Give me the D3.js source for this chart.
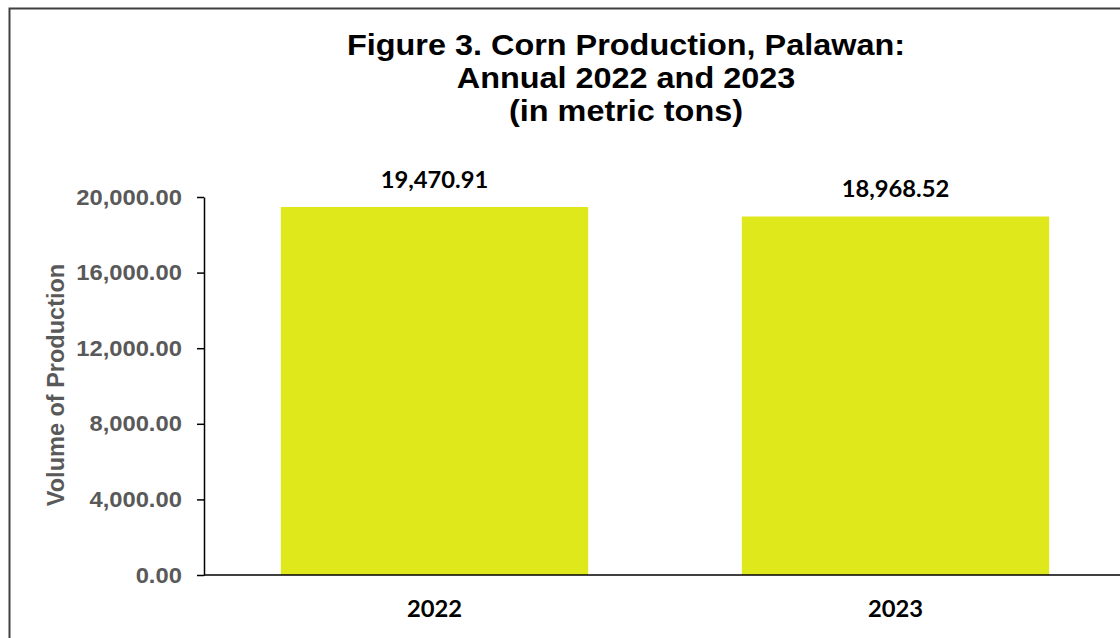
<!DOCTYPE html>
<html>
<head>
<meta charset="utf-8">
<script src="https://cdn.jsdelivr.net/npm/d3@7"></script>
<style>
body{margin:0;background:#fff;}
svg{display:block;}
</style>
</head>
<body>
<svg></svg>
<script>
var years = ["2022", "2023"];
var production = [19470.91, 18968.52];
var yTicks = [0, 4000, 8000, 12000, 16000, 20000];
var titleLines = ["Figure 3. Corn Production, Palawan:", "Annual 2022 and 2023", "(in metric tons)"];

var width = 1120, height = 638;
var stretch = 1.08; // source picture is a bit wider than tall
var svg = d3.select("svg").attr("width", width).attr("height", height);

// outer chart border (runs off the right / bottom edge like the source)
svg.append("rect")
    .attr("x", 9.5).attr("y", 8.5)
    .attr("width", 1130).attr("height", 650)
    .attr("fill", "none").attr("stroke", "#404040").attr("stroke-width", 2);

var x = d3.scaleBand().domain(years).range([204, 1126]).paddingInner(1/3).paddingOuter(1/6);
var y = d3.scaleLinear().domain([0, 20000]).range([575, 197]);

var fmt = d3.format(",.2f");

// title
svg.append("g").selectAll("text")
    .data(titleLines)
    .enter().append("text")
    .attr("transform", function(d, i) { return "translate(626," + (55 + i * 33) + ") scale(" + stretch + ",1)"; })
    .attr("text-anchor", "middle")
    .style("font-family", "'Liberation Sans', Arial, sans-serif")
    .style("font-weight", "bold")
    .style("font-size", "30px")
    .style("fill", "#000")
    .text(function(d) { return d; });

// bars
svg.append("g").selectAll("rect")
    .data(production)
    .enter().append("rect")
    .attr("x", function(d, i) { return x(years[i]); })
    .attr("y", function(d) { return y(d); })
    .attr("width", x.bandwidth())
    .attr("height", function(d) { return y(0) - y(d); })
    .attr("fill", "#dfe81a");

// value labels
svg.append("g").selectAll("text")
    .data(production)
    .enter().append("text")
    .attr("transform", function(d, i) {
        return "translate(" + (x(years[i]) + x.bandwidth() / 2) + "," + (y(d) - 19) + ") scale(" + stretch + ",1)";
    })
    .attr("text-anchor", "middle")
    .style("font-family", "Lato, 'Open Sans', sans-serif")
    .style("font-weight", "bold")
    .style("font-size", "22px")
    .style("fill", "#000")
    .text(function(d) { return fmt(d); });

// y axis
var yAxis = svg.append("g")
    .attr("transform", "translate(204,0)")
    .call(d3.axisLeft(y).tickValues(yTicks).tickFormat(fmt).tickSizeOuter(0).tickSizeInner(7).tickPadding(13.5));
yAxis.select(".domain").attr("stroke", "#000").attr("stroke-width", 1.5);
yAxis.selectAll(".tick line").attr("stroke", "#000").attr("stroke-width", 1.5);
yAxis.selectAll(".tick text")
    .attr("transform", "scale(" + stretch + ",1)")
    .style("font-family", "'Liberation Sans', Arial, sans-serif")
    .style("font-weight", "bold")
    .style("font-size", "22px")
    .style("fill", "#595959");

// x axis
var xAxis = svg.append("g")
    .attr("transform", "translate(0,575)")
    .call(d3.axisBottom(x).tickSize(0).tickPadding(26));
xAxis.select(".domain").attr("stroke", "#000").attr("stroke-width", 1.5)
    .attr("d", "M204,0H1120");
xAxis.selectAll(".tick text")
    .attr("transform", "scale(" + stretch + ",1)")
    .style("font-family", "Lato, 'Open Sans', sans-serif")
    .style("font-weight", "bold")
    .style("font-size", "22px")
    .style("fill", "#000");

// y axis title
svg.append("text")
    .attr("transform", "translate(64,385) rotate(-90)")
    .attr("text-anchor", "middle")
    .style("font-family", "'Liberation Sans', Arial, sans-serif")
    .style("font-weight", "bold")
    .style("font-size", "23.5px")
    .style("fill", "#595959")
    .text("Volume of Production");
</script>
</body>
</html>
